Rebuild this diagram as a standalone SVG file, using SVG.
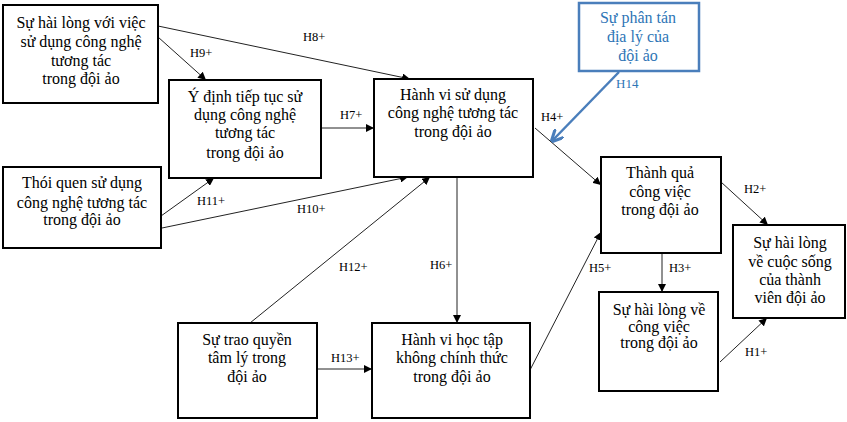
<svg xmlns="http://www.w3.org/2000/svg" width="847" height="422" viewBox="0 0 847 422">
<style>
.box{fill:#fff;stroke:#000;stroke-width:2}
.bbox{fill:#fff;stroke:#4a7ebb;stroke-width:2.5}
.t{font-family:"Liberation Serif","Times New Roman",serif;font-size:16px;fill:#000;text-anchor:middle}
.bt{font-family:"Liberation Serif","Times New Roman",serif;font-size:16px;fill:#2e75b6;text-anchor:middle}
.lb{font-family:"Liberation Serif","Times New Roman",serif;font-size:12.5px;fill:#000}
.blb{font-family:"Liberation Serif","Times New Roman",serif;font-size:13px;fill:#2e75b6}
.c{stroke:#222;stroke-width:1;fill:none;marker-end:url(#ah)}
.bc{stroke:#4a7ebb;stroke-width:2.5;fill:none;marker-end:url(#bah)}
</style>
<defs>
<marker id="ah" viewBox="0 0 10 10" refX="10" refY="5" markerWidth="8" markerHeight="8" markerUnits="userSpaceOnUse" orient="auto"><path d="M0,0 L10,5 L0,10 z" fill="#000"/></marker>
<marker id="bah" viewBox="0 0 10 10" refX="9" refY="5" markerWidth="5" markerHeight="5" orient="auto"><path d="M0,0 L10,5 L0,10" fill="none" stroke="#4a7ebb" stroke-width="2.5"/></marker>
</defs>
<rect width="847" height="422" fill="#fff"/>
<g id="connectors">
<line class="c" x1="158" y1="26" x2="410" y2="79"/>
<line class="c" x1="158" y1="37" x2="206" y2="80"/>
<line class="c" x1="321" y1="128" x2="374" y2="128"/>
<line class="c" x1="535" y1="128" x2="601" y2="185"/>
<line class="c" x1="161" y1="216" x2="214" y2="178"/>
<line class="c" x1="162" y1="228" x2="408" y2="177"/>
<line class="c" x1="250" y1="323" x2="430" y2="177"/>
<line class="c" x1="457" y1="177" x2="457" y2="323"/>
<line class="c" x1="318" y1="369" x2="372" y2="369"/>
<line class="c" x1="530" y1="370" x2="601" y2="232"/>
<line class="c" x1="721" y1="182" x2="768" y2="225"/>
<line class="c" x1="662" y1="253" x2="662" y2="292"/>
<line class="c" x1="720" y1="362" x2="767" y2="318"/>
<line class="bc" x1="619" y1="72" x2="552" y2="141"/>
<text class="lb" x="303" y="41">H8+</text>
<text class="lb" x="190" y="57">H9+</text>
<text class="lb" x="340" y="119">H7+</text>
<text class="lb" x="541" y="121">H4+</text>
<text class="blb" x="616" y="88">H14</text>
<text class="lb" x="197" y="205">H11+</text>
<text class="lb" x="297" y="213">H10+</text>
<text class="lb" x="339" y="271">H12+</text>
<text class="lb" x="430" y="269">H6+</text>
<text class="lb" x="331" y="362">H13+</text>
<text class="lb" x="589" y="272">H5+</text>
<text class="lb" x="744" y="193">H2+</text>
<text class="lb" x="669" y="272">H3+</text>
<text class="lb" x="745" y="356">H1+</text>
</g>
<g id="n1">
<rect class="box" x="3" y="5" width="155" height="98"/>
<text class="t" x="81" y="28">Sự hài lòng với việc</text>
<text class="t" x="81" y="47">sử dụng công nghệ</text>
<text class="t" x="81" y="66">tương tác</text>
<text class="t" x="81" y="84">trong đội ảo</text>
</g>
<g id="n2">
<rect class="box" x="169" y="80" width="152" height="98"/>
<text class="t" x="245" y="102">Ý định tiếp tục sử</text>
<text class="t" x="245" y="120">dụng công nghệ</text>
<text class="t" x="245" y="138">tương tác</text>
<text class="t" x="245" y="158">trong đội ảo</text>
</g>
<g id="n3">
<rect class="box" x="374" y="79" width="159" height="98"/>
<text class="t" x="453" y="100">Hành vi sử dụng</text>
<text class="t" x="453" y="118">công nghệ tương tác</text>
<text class="t" x="453" y="137">trong đội ảo</text>
</g>
<g id="n4">
<rect class="bbox" x="579" y="3" width="120" height="68"/>
<text class="bt" x="638" y="23">Sự phân tán</text>
<text class="bt" x="638" y="42">địa lý của</text>
<text class="bt" x="638" y="61">đội ảo</text>
</g>
<g id="n5">
<rect class="box" x="3" y="167" width="158" height="81"/>
<text class="t" x="82" y="188">Thói quen sử dụng</text>
<text class="t" x="82" y="208">công nghệ tương tác</text>
<text class="t" x="82" y="225">trong đội ảo</text>
</g>
<g id="n6">
<rect class="box" x="601" y="157" width="120" height="96"/>
<text class="t" x="660" y="178">Thành quả</text>
<text class="t" x="660" y="197">công việc</text>
<text class="t" x="660" y="215">trong đội ảo</text>
</g>
<g id="n7">
<rect class="box" x="733" y="225" width="112" height="93"/>
<text class="t" x="790" y="248">Sự hài lòng</text>
<text class="t" x="790" y="267">về cuộc sống</text>
<text class="t" x="790" y="285">của thành</text>
<text class="t" x="790" y="303">viên đội ảo</text>
</g>
<g id="n8">
<rect class="box" x="599" y="292" width="119" height="99"/>
<text class="t" x="659" y="315">Sự hài lòng về</text>
<text class="t" x="659" y="332">công việc</text>
<text class="t" x="659" y="348">trong đội ảo</text>
</g>
<g id="n9">
<rect class="box" x="178" y="323" width="139" height="95"/>
<text class="t" x="247" y="345">Sự trao quyền</text>
<text class="t" x="247" y="363">tâm lý trong</text>
<text class="t" x="247" y="382">đội ảo</text>
</g>
<g id="n10">
<rect class="box" x="372" y="323" width="158" height="95"/>
<text class="t" x="452" y="345">Hành vi học tập</text>
<text class="t" x="452" y="363">không chính thức</text>
<text class="t" x="452" y="382">trong đội ảo</text>
</g>
</svg>
